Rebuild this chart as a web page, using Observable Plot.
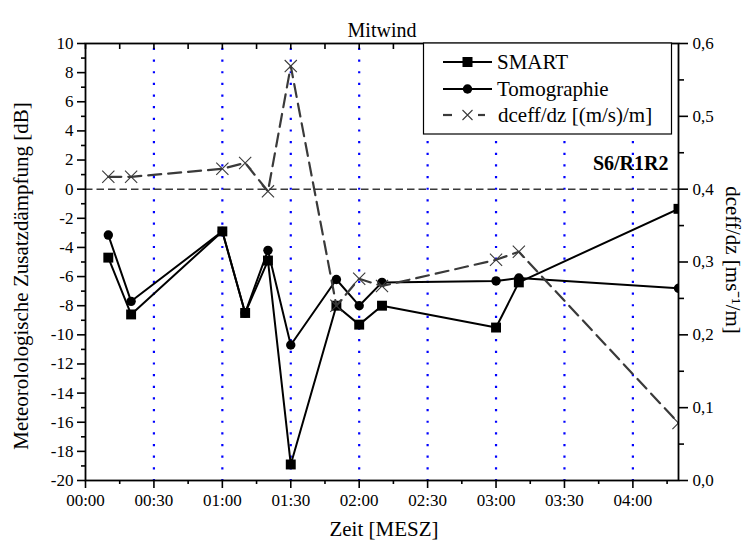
<!DOCTYPE html>
<html><head><meta charset="utf-8">
<script src="https://cdn.jsdelivr.net/npm/d3@7"></script>
<script src="https://cdn.jsdelivr.net/npm/@observablehq/plot@0.6"></script>
<style>
html,body{margin:0;padding:0;background:#fff}
#chart svg, #chart svg text{font-family:"Liberation Serif","Times New Roman",serif !important}
</style>
</head><body><div id="chart"></div>
<script>
// ---- texts
const title = "Mitwind";
const xLabel = "Zeit [MESZ]";
const yLabel = "Meteorolologische Zusatzdämpfung [dB]";
const y2Label = "dceff/dz [ms\u207B\u00B9/m]";
const stationLabel = "S6/R1R2";
const seriesNames = ["SMART", "Tomographie", "dceff/dz [(m/s)/m]"];

// ---- data
const times       = ["00:10","00:20","01:00","01:10","01:20","01:30","01:50","02:00","02:10","03:00","03:10","04:20"];
const smart       = [-4.7, -8.6, -2.9, -8.5, -4.9, -18.9, -8.0, -9.3, -8.0, -9.5, -6.4, -1.35];
const tomographie = [-3.15, -7.7, -2.9, -8.5, -4.2, -10.7, -6.2, -8.0, -6.4, -6.3, -6.1, -6.8];
const dceff       = [0.417, 0.417, 0.428, 0.436, 0.397, 0.569, 0.240, 0.277, 0.267, 0.303, 0.314, 0.079];

// ---- ticks / domains
const xDomain = ["00:00", "04:20"];
const xTickLabels = ["00:00","00:30","01:00","01:30","02:00","02:30","03:00","03:30","04:00"];
const xMinorTicks = ["00:15","00:45","01:15","01:45","02:15","02:45","03:15","03:45","04:15"];
const gridTicks = ["00:30","01:00","01:30","02:00","02:30","03:00","03:30","04:00"];
const yDomain = [-20, 10];
const yTicks = [-20,-18,-16,-14,-12,-10,-8,-6,-4,-2,0,2,4,6,8,10];
const yMinorTicks = [-19,-17,-15,-13,-11,-9,-7,-5,-3,-1,1,3,5,7,9];
const y2Domain = [0, 0.6];
const y2Ticks = [0, 0.1, 0.2, 0.3, 0.4, 0.5, 0.6];
const y2MinorTicks = [0.05, 0.15, 0.25, 0.35, 0.45, 0.55];

const toMin = s => parseInt(s.slice(0, 2)) * 60 + parseInt(s.slice(3));
const fmtTime = m => String(Math.floor(m / 60)).padStart(2, "0") + ":" + String(m % 60).padStart(2, "0");
const y2ToY = d3.scaleLinear(y2Domain, yDomain);

const rows = times.map((t, i) => ({t: toMin(t), smart: smart[i], tomo: tomographie[i], d: y2ToY(dceff[i])}));

const ink = "#000";
const gray = "#3a3a3a";
const serif = "Liberation Serif";

const chart = Plot.plot({
  width: 744, height: 547,
  marginLeft: 85, marginRight: 66, marginTop: 43, marginBottom: 67,
  x: {domain: xDomain.map(toMin)},
  y: {domain: yDomain},
  style: {fontFamily: serif, fontSize: "17px", color: ink, background: "#fff", overflow: "visible"},
  marks: [
    Plot.ruleX(gridTicks.map(toMin), {x: d => d, y1: yDomain[0], y2: yDomain[1], stroke: "#0000ff", strokeWidth: 2.2, strokeDasharray: "0,11.65", strokeLinecap: "square"}),
    Plot.ruleY([0], {stroke: gray, strokeWidth: 1.5, strokeDasharray: "7.5,4"}),
    Plot.line(rows, {x: "t", y: "smart", stroke: ink, strokeWidth: 2, clip: true}),
    Plot.line(rows, {x: "t", y: "tomo", stroke: ink, strokeWidth: 2, clip: true}),
    Plot.dot(rows, {x: "t", y: "smart", symbol: "square", fill: ink, stroke: "none", r: 5.6, clip: true}),
    Plot.dot(rows, {x: "t", y: "tomo", symbol: "circle", fill: ink, stroke: "none", r: 4.7, clip: true}),
    Plot.line(rows, {x: "t", y: "d", stroke: gray, strokeWidth: 2.2, strokeDasharray: "13,7", clip: true}),
    Plot.dot(rows, {x: "t", y: "d", symbol: "times", stroke: gray, strokeWidth: 1.1, r: 5.6, clip: true}),
    Plot.axisX({ticks: xTickLabels.map(toMin), tickFormat: fmtTime, tickSize: 8, tickPadding: 5, strokeWidth: 1.6, label: null, fontSize: 17, fontFamily: serif}),
    Plot.axisX({ticks: xMinorTicks.map(toMin), tickFormat: () => "", tickSize: 4, strokeWidth: 1.6, label: null}),
    Plot.axisX({anchor: "top", ticks: xTickLabels.concat(xMinorTicks).map(toMin), tickFormat: () => "", tickSize: 5, dy: 5, strokeWidth: 1.6, label: null}),
    Plot.axisY({ticks: yTicks, tickFormat: d => String(d), tickSize: 8, tickPadding: 4, strokeWidth: 1.6, label: null, fontSize: 17, fontFamily: serif}),
    Plot.axisY({ticks: yMinorTicks, tickFormat: () => "", tickSize: 4, strokeWidth: 1.6, label: null}),
    Plot.axisY({anchor: "right", ticks: y2Ticks.map(y2ToY), tickFormat: d => y2ToY.invert(d).toFixed(1).replace(".", ","), tickSize: 9, tickPadding: 5, strokeWidth: 1.6, label: null, fontSize: 17, fontFamily: serif}),
    Plot.axisY({anchor: "right", ticks: y2MinorTicks.map(y2ToY), tickFormat: () => "", tickSize: 5, strokeWidth: 1.6, label: null}),
    Plot.frame({stroke: ink, strokeWidth: 1.8}),
    Plot.text([title], {text: d => d, frameAnchor: "top", dy: -21, fontSize: 20, fontFamily: serif}),
    Plot.text([xLabel], {text: d => d, frameAnchor: "bottom", dx: 2, dy: 55, fontSize: 21, fontFamily: serif}),
    Plot.text([yLabel], {text: d => d, frameAnchor: "left", textAnchor: "middle", rotate: -90, dx: -64, dy: 14, fontSize: 21, fontFamily: serif}),
    Plot.text([y2Label], {text: d => d, frameAnchor: "right", textAnchor: "middle", rotate: 90, dx: 54, dy: -2, fontSize: 21, fontFamily: serif}),
    Plot.text([stationLabel], {text: d => d, frameAnchor: "top-right", textAnchor: "end", dx: -10, dy: 112, fontSize: 20, fontWeight: "bold", fontFamily: serif})
  ]
});

// ---- legend box
const svg = d3.select(chart);
const lg = svg.append("g")
  .attr("font-family", serif)
  .attr("font-size", 21)
  .attr("text-anchor", "start");
lg.append("rect").attr("x", 423.5).attr("y", 43).attr("width", 248).attr("height", 91)
  .attr("fill", "#fff").attr("stroke", "#000").attr("stroke-width", 1.2);
const rowsY = [62, 89, 115];
const sx0 = 443, sx1 = 492, sxm = 467.5, tx = 497;
lg.append("line").attr("x1", sx0).attr("x2", sx1).attr("y1", rowsY[0]).attr("y2", rowsY[0]).attr("stroke", ink).attr("stroke-width", 2);
lg.append("rect").attr("x", sxm - 5).attr("y", rowsY[0] - 5).attr("width", 10).attr("height", 10).attr("fill", ink);
lg.append("text").attr("x", tx).attr("y", rowsY[0]).attr("dy", "0.33em").text(seriesNames[0]);
lg.append("line").attr("x1", sx0).attr("x2", sx1).attr("y1", rowsY[1]).attr("y2", rowsY[1]).attr("stroke", ink).attr("stroke-width", 2);
lg.append("circle").attr("cx", sxm).attr("cy", rowsY[1]).attr("r", 4.7).attr("fill", ink);
lg.append("text").attr("x", tx).attr("y", rowsY[1]).attr("dy", "0.33em").text(seriesNames[1]);
lg.append("line").attr("x1", sx0).attr("x2", 452).attr("y1", rowsY[2]).attr("y2", rowsY[2]).attr("stroke", gray).attr("stroke-width", 2.2);
lg.append("line").attr("x1", 478).attr("x2", 485).attr("y1", rowsY[2]).attr("y2", rowsY[2]).attr("stroke", gray).attr("stroke-width", 2.2);
lg.append("path").attr("d", `M${sxm-5},${rowsY[2]-5}L${sxm+5},${rowsY[2]+5}M${sxm-5},${rowsY[2]+5}L${sxm+5},${rowsY[2]-5}`)
  .attr("stroke", gray).attr("stroke-width", 1.1);
lg.append("text").attr("x", tx + 1).attr("y", rowsY[2]).attr("dy", "0.33em").text(seriesNames[2]);

document.getElementById("chart").appendChild(chart);
</script>
</body></html>
